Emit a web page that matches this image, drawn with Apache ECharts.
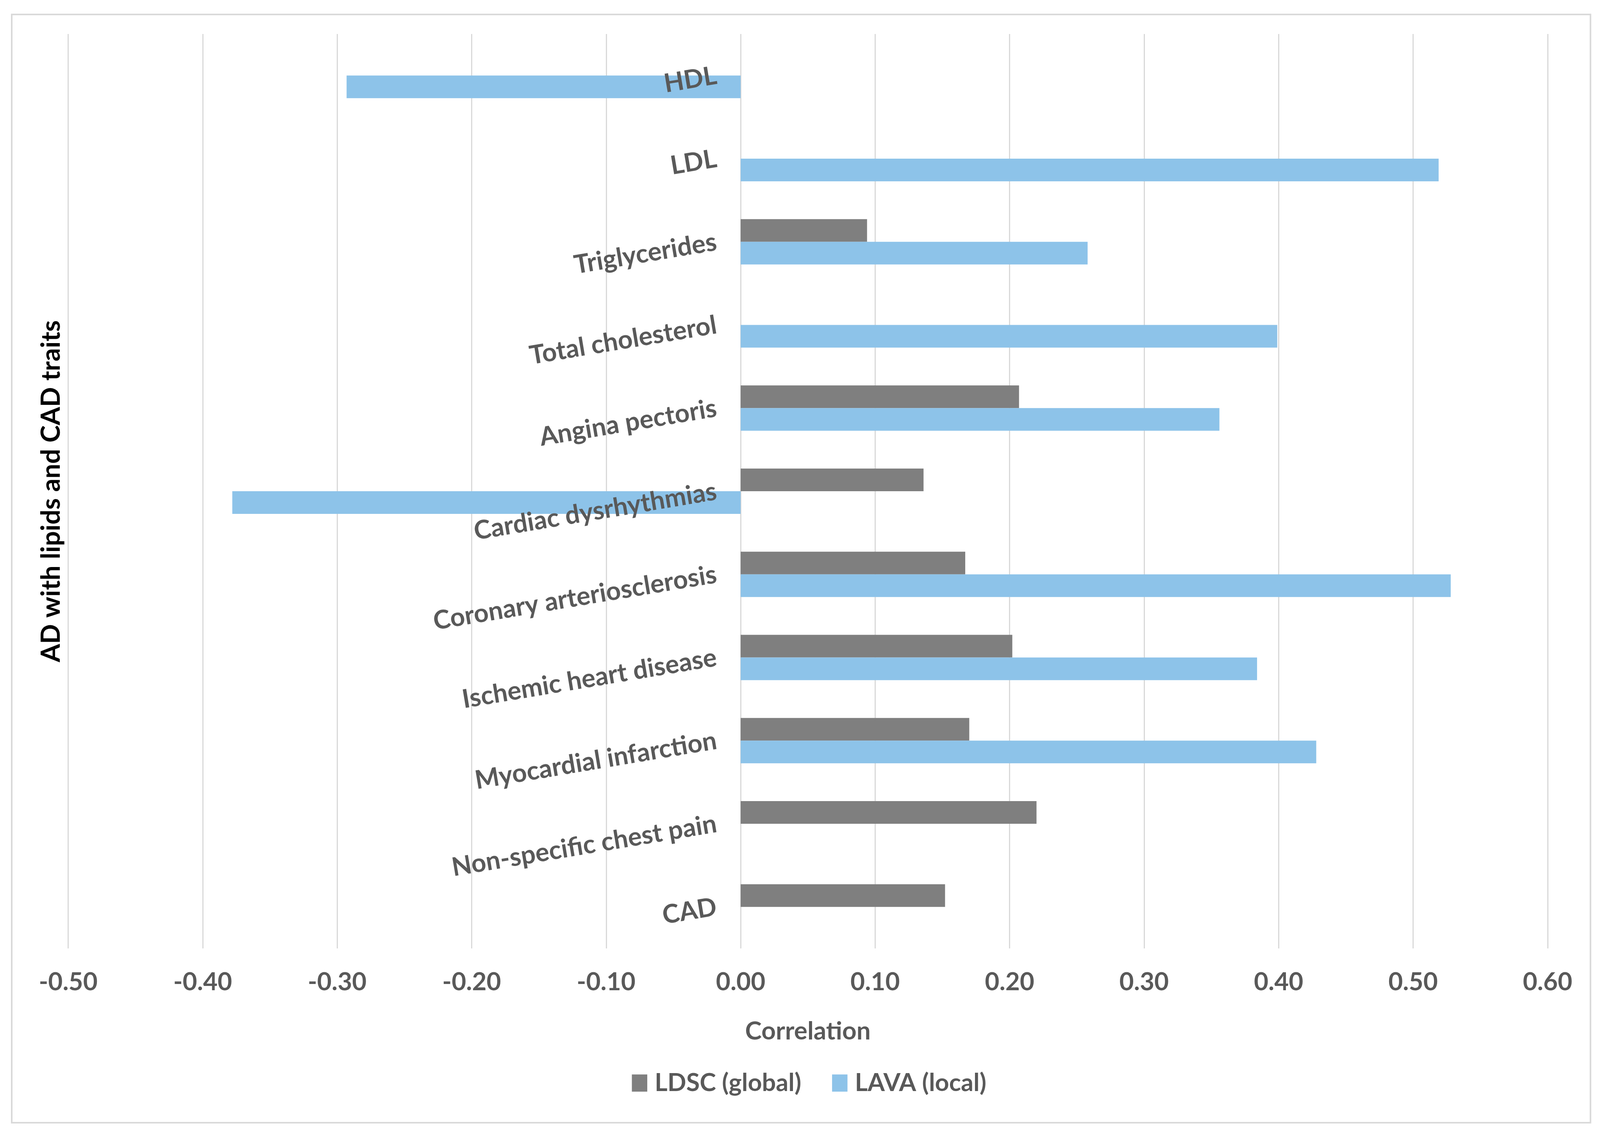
<!DOCTYPE html>
<html>
<head>
<meta charset="utf-8">
<script src="https://cdn.jsdelivr.net/npm/echarts@6/dist/echarts.min.js"></script>
<style>
html,body{margin:0;padding:0;background:#fff;overflow:hidden;}
#chart{width:100vw;height:100vh;}
</style>
</head>
<body>
<div id="chart"></div>
<script>
const categories = ['HDL','LDL','Triglycerides','Total cholesterol','Angina pectoris','Cardiac dysrhythmias','Coronary arteriosclerosis','Ischemic heart disease','Myocardial infarction','Non-specific chest pain','CAD'];
const ldscValues = [null, null, 0.094, null, 0.207, 0.136, 0.167, 0.202, 0.170, 0.220, 0.152];
const lavaValues = [-0.293, 0.519, 0.258, 0.399, 0.356, -0.378, 0.528, 0.384, 0.428, null, null];
const seriesNames = ['LDSC (global)', 'LAVA (local)'];
const xMin = -0.5, xMax = 0.6, xStep = 0.1;
const xAxisTitle = 'Correlation';
const yAxisTitle = 'AD with lipids and CAD traits';

const FONT = 'Lato, "Open Sans", sans-serif';
const TXT = '#595959';

const chart = echarts.init(document.getElementById('chart'), null, {renderer: 'canvas'});
// layout designed for a 4363 x 2907 canvas, scaled to the actual viewport
const W = chart.getWidth(), H = chart.getHeight();
const sx = W / 4363, sy = H / 2907;
const GL = 186 * sx, GR = 143 * sx;
// place the category axis on the x = 0 line (Excel "axis crosses at 0")
const zeroOffset = -((W - GL - GR) * (0 - xMin) / (xMax - xMin));

chart.setOption({
  backgroundColor: '#ffffff',
  animation: false,
  grid: {left: GL, right: GR, top: 87 * sy, bottom: 480 * sy, containLabel: false, outerBoundsMode: 'none'},
  graphic: [
    {type: 'rect', shape: {x: 32 * sx, y: 37 * sy, width: 4305 * sx, height: 2836 * sy},
     style: {fill: 'none', stroke: '#d9d9d9', lineWidth: 4}, z: -10, silent: true},
    {type: 'text', x: 140 * sx, y: 1257 * sy, rotation: Math.PI / 2,
     style: {text: yAxisTitle, fill: '#000000', font: 'bold 67px ' + FONT,
             textAlign: 'center', textVerticalAlign: 'middle'}}
  ],
  legend: {
    data: seriesNames,
    left: 1723 * sx, top: 2740 * sy, padding: 0,
    icon: 'rect', itemWidth: 42 * sx, itemHeight: 44, itemGap: 84 * sx,
    textStyle: {color: TXT, fontSize: 63, fontWeight: 'bold', fontFamily: FONT, padding: [0, 0, 0, 14]}
  },
  xAxis: {
    type: 'value', min: xMin, max: xMax, interval: xStep,
    name: xAxisTitle, nameLocation: 'middle', nameGap: 180 * sy,
    nameTextStyle: {color: TXT, fontSize: 64, fontWeight: 'bold', fontFamily: FONT},
    axisLine: {show: false, onZero: false}, axisTick: {show: false},
    axisLabel: {color: TXT, fontSize: 64, fontWeight: 'bold', fontFamily: FONT, margin: 54 * sy,
                showMinLabel: true, showMaxLabel: true,
                formatter: v => v.toFixed(2)},
    splitLine: {show: true, lineStyle: {color: '#d9d9d9', width: 3}}
  },
  yAxis: {
    type: 'category', data: categories, inverse: true, z: 5,
    position: 'left', offset: zeroOffset,
    axisLine: {show: false, onZero: false},
    axisTick: {show: false},
    splitLine: {show: false},
    axisLabel: {interval: 0, rotate: 9.5, margin: 66 * sx, color: TXT, fontSize: 66,
                fontWeight: 'bold', fontFamily: FONT}
  },
  series: [
    {name: seriesNames[0], type: 'bar', data: ldscValues, barWidth: 58 * sy, barGap: '0%',
     itemStyle: {color: '#7f7f7f'}},
    {name: seriesNames[1], type: 'bar', data: lavaValues, barWidth: 58 * sy, barGap: '0%',
     itemStyle: {color: '#8dc3e9'}}
  ]
});
</script>
</body>
</html>
